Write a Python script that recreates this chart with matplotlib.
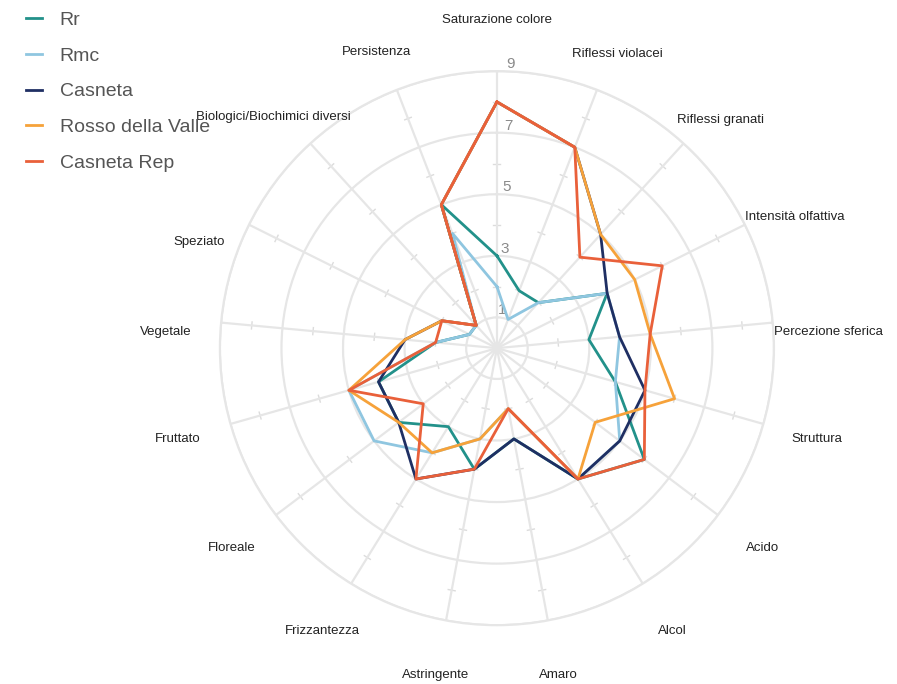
import numpy as np
import matplotlib.pyplot as plt

plt.rcParams['font.family'] = ['Liberation Sans', 'DejaVu Sans']

categorie = ['Saturazione colore', 'Riflessi violacei', 'Riflessi granati',
             'Intensità olfattiva', 'Percezione sferica', 'Struttura', 'Acido',
             'Alcol', 'Amaro', 'Astringente', 'Frizzantezza', 'Floreale',
             'Fruttato', 'Vegetale', 'Speziato', 'Biologici/Biochimici diversi',
             'Persistenza']

rr = [3, 2, 2, 4, 3, 4, 6, 5, 3, 4, 3, 4, 4, 2, 1, 1, 5]
rmc = [2, 1, 2, 4, 4, 4, 5, 5, 2, 3, 4, 5, 5, 2, 1, 1, 4]
casneta = [8, 7, 5, 4, 4, 5, 5, 5, 3, 4, 5, 4, 4, 3, 2, 1, 5]
rosso = [8, 7, 5, 5, 5, 6, 4, 5, 2, 3, 4, 4, 5, 3, 2, 1, 5]
casneta_rep = [8, 7, 4, 6, 5, 5, 6, 5, 2, 4, 5, 3, 5, 2, 2, 1, 5]

serie = ['Rr', 'Rmc', 'Casneta', 'Rosso della Valle', 'Casneta Rep']
valori = [rr, rmc, casneta, rosso, casneta_rep]
colori = ['#22918a', '#8fc6e0', '#1f2f63', '#f6a23a', '#e9603a']

r_ticks = [1, 3, 5, 7, 9]

n = len(categorie)
angoli = np.linspace(0, 2 * np.pi, n, endpoint=False)

fig = plt.figure(figsize=(8.97, 6.84), dpi=100)
ax = fig.add_axes([0.245, 0.086, 0.618, 0.81], polar=True)
ax.set_theta_zero_location('N')
ax.set_theta_direction(-1)
ax.set_ylim(0, 9)

griglia = '#e6e6e6'
ax.set_xticks(angoli)
ax.set_xticklabels([])
ax.set_yticks(r_ticks)
ax.set_yticklabels([str(v) for v in r_ticks], color='#8a8a8a', fontsize=11)
ax.set_rlabel_position(2)
ax.grid(True, color=griglia, linewidth=1.6)
ax.spines['polar'].set_color(griglia)
ax.spines['polar'].set_linewidth(1.6)

# piccole tacche sui raggi
for a in angoli:
    for r in [2, 4, 6, 8]:
        d = 3.5 / (r * 30.6)
        ax.plot([a - d, a + d], [r, r], color='#dcdcdc', linewidth=1, zorder=1)

for nome, v, c in zip(serie, valori, colori):
    ang = np.concatenate([angoli, angoli[:1]])
    vv = list(v) + [v[0]]
    ax.plot(ang, vv, color=c, linewidth=2.0, label=nome, zorder=3)

# spostamento verticale (pixel) delle etichette come nell'originale
spost = [-4, -16, -18, -17, -15, 0, 0, 0, 0, 0, 0, 0, 0, -15, -42, -15, -14]
for a, testo, dy in zip(angoli, categorie, spost):
    ax.annotate(testo, xy=(a, 10.8), xytext=(0, dy), textcoords='offset pixels',
                ha='center', va='center', fontsize=9.5, color='#222222',
                annotation_clip=False)

leg = fig.legend(loc='upper left', bbox_to_anchor=(0.01, 1.009), frameon=False,
                 fontsize=14, handlelength=0.8, labelspacing=0.93,
                 handletextpad=0.9)
for t in leg.get_texts():
    t.set_color('#555555')

fig.savefig('out.png', dpi=100, facecolor='white')
